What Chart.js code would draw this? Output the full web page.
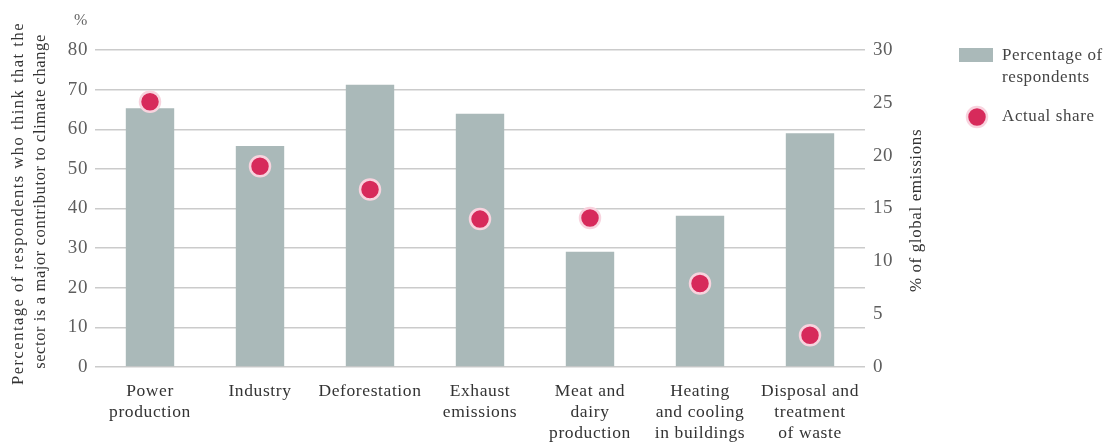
<!DOCTYPE html>
<html>
<head>
<meta charset="utf-8">
<script src="https://cdn.jsdelivr.net/npm/chart.js@4/dist/chart.umd.min.js"></script>
<style>
  html, body { margin: 0; padding: 0; background: #ffffff; }
  #wrap { width: 1111px; height: 442px; position: relative; }
</style>
</head>
<body>
<div id="wrap"><canvas id="c" width="1111" height="442"></canvas></div>
<script>
// Sectors surveyed
const categories = [
  ['Power', 'production'],
  ['Industry'],
  ['Deforestation'],
  ['Exhaust', 'emissions'],
  ['Meat and', 'dairy', 'production'],
  ['Heating', 'and cooling', 'in buildings'],
  ['Disposal and', 'treatment', 'of waste']
];
// Share of respondents naming the sector a major contributor (%)
const respondentsPct = [65.3, 55.8, 71.2, 63.9, 29.1, 38.2, 59.0];
// Sector's actual share of global emissions (%)
const actualShare = [25.1, 19.0, 16.8, 14.0, 14.1, 7.9, 3.0];
// Axis ticks
const leftTicks = [0, 10, 20, 30, 40, 50, 60, 70, 80];
const rightTicks = [0, 5, 10, 15, 20, 25, 30];

const SERIF = '"Liberation Serif", "DejaVu Serif", serif';
const BAR_COLOR = '#aab9b9';
const DOT_COLOR = '#d72a5b';
const DOT_EDGE = '#f8d3de';

const spacing = {
  id: 'spacing',
  beforeUpdate(chart) { chart.ctx.letterSpacing = '0.6px'; },
  beforeDraw(chart) { chart.ctx.letterSpacing = '0.6px'; }
};

function rotatedText(ctx, text, x, y, spacingPx) {
  ctx.save();
  ctx.letterSpacing = spacingPx;
  ctx.translate(x, y);
  ctx.rotate(-Math.PI / 2);
  ctx.fillText(text, 0, 0);
  ctx.restore();
}

const annotations = {
  id: 'annotations',
  afterDraw(chart) {
    const ctx = chart.ctx;
    const area = chart.chartArea;
    ctx.save();
    ctx.letterSpacing = '0.6px';

    // unit marker above left axis
    ctx.fillStyle = '#666';
    ctx.font = '16px ' + SERIF;
    ctx.textAlign = 'center';
    ctx.textBaseline = 'middle';
    ctx.fillText('%', 81, 21);

    // left axis title, two lines reading upward
    const midY = (area.top + area.bottom) / 2;
    ctx.fillStyle = '#333';
    ctx.font = '16.5px ' + SERIF;
    rotatedText(ctx, 'Percentage of respondents who think that the', 19, midY - 5, '1.5px');
    rotatedText(ctx, 'sector is a major contributor to climate change', 41, midY - 7, '0.6px');

    // right axis title
    ctx.font = '17px ' + SERIF;
    rotatedText(ctx, '% of global emissions', 917, midY + 2, '0.6px');

    // legend
    ctx.fillStyle = BAR_COLOR;
    ctx.fillRect(959, 48, 34, 14);
    ctx.beginPath();
    ctx.arc(977, 117, 10, 0, Math.PI * 2);
    ctx.fillStyle = DOT_COLOR;
    ctx.fill();
    ctx.lineWidth = 2.5;
    ctx.strokeStyle = DOT_EDGE;
    ctx.stroke();

    ctx.fillStyle = '#444';
    ctx.font = '17px ' + SERIF;
    ctx.textAlign = 'left';
    ctx.fillText('Percentage of', 1002, 56);
    ctx.fillText('respondents', 1002, 78);
    ctx.fillText('Actual share', 1002, 117);
    ctx.restore();
  }
};

new Chart(document.getElementById('c'), {
  data: {
    labels: categories,
    datasets: [
      {
        type: 'line',
        label: 'Actual share',
        data: actualShare,
        yAxisID: 'y2',
        showLine: false,
        pointRadius: 10,
        pointHoverRadius: 10,
        pointBackgroundColor: DOT_COLOR,
        pointBorderColor: DOT_EDGE,
        pointBorderWidth: 2.5,
        order: 1
      },
      {
        type: 'bar',
        label: 'Percentage of respondents',
        data: respondentsPct,
        yAxisID: 'y',
        backgroundColor: BAR_COLOR,
        borderWidth: 0,
        categoryPercentage: 1,
        barPercentage: 0.44,
        order: 2
      }
    ]
  },
  options: {
    responsive: false,
    animation: false,
    events: [],
    layout: { padding: { top: 50, left: 0, right: 0, bottom: 0 } },
    plugins: { legend: { display: false }, tooltip: { enabled: false } },
    scales: {
      x: {
        offset: true,
        grid: { display: false },
        border: { display: false },
        ticks: {
          color: '#333',
          font: { family: SERIF, size: 17.5 },
          padding: 6,
          maxRotation: 0,
          autoSkip: false
        },
        afterFit(s) { s.height = 75; }
      },
      y: {
        position: 'left',
        min: 0,
        max: 80,
        afterBuildTicks(s) { s.ticks = leftTicks.map(v => ({ value: v })); },
        grid: { color: '#cbcbcb', lineWidth: 1.5, drawTicks: false },
        border: { display: false },
        ticks: {
          color: '#5e5e5e',
          font: { family: SERIF, size: 19 },
          padding: 7
        },
        afterFit(s) { s.width = 95; }
      },
      y2: {
        position: 'right',
        min: 0,
        max: 30,
        afterBuildTicks(s) { s.ticks = rightTicks.map(v => ({ value: v })); },
        grid: { display: false, drawTicks: false },
        border: { display: false },
        ticks: {
          color: '#5e5e5e',
          font: { family: SERIF, size: 19 },
          padding: 8
        },
        afterFit(s) { s.width = 246; }
      }
    }
  },
  plugins: [spacing, annotations]
});
</script>
</body>
</html>
